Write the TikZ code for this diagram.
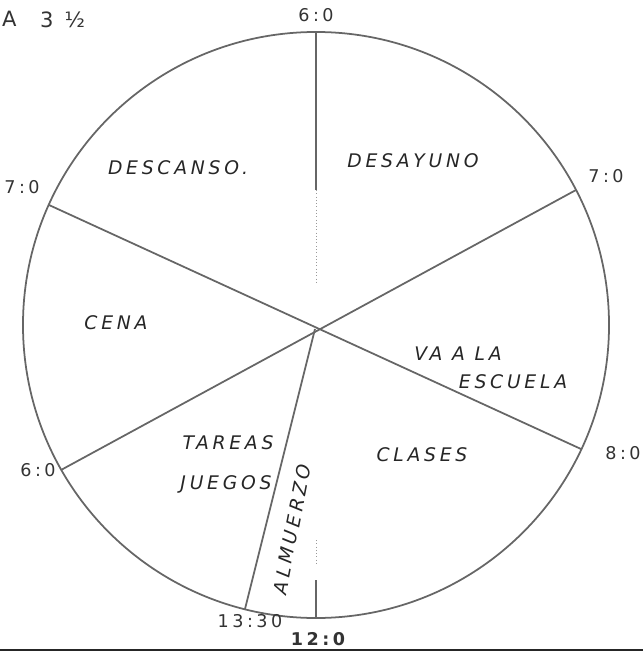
\documentclass[tikz,border=0pt]{standalone}
\usepackage{fontspec}
\setmainfont{DejaVu Sans}
\newfontfamily\hand[LetterSpace=20]{DejaVu Sans}

\begin{document}
\begin{tikzpicture}[x=0.03cm, y=-0.03cm,
    pen/.style={line width=1.5pt, draw=black!60},
    lbl/.style={font=\hand\itshape\fontsize{16}{18}\selectfont, text=black!85, inner sep=0pt},
    hora/.style={font=\hand\fontsize{15}{17}\selectfont, text=black!80, inner sep=0pt}]
    \useasboundingbox (0,0) rectangle (643,653);

    % Clock face
    \coordinate (c) at (316,325);
    \draw[pen] (c) circle (8.79cm);

    % Points on the rim
    \coordinate (t6)    at (316,32);
    \coordinate (t7r)   at (576,190);
    \coordinate (t8)    at (581,449);
    \coordinate (t12)   at (316,618);
    \coordinate (t1330) at (245,609);
    \coordinate (t6l)   at (61,470);
    \coordinate (t7l)   at (49,205);
    \coordinate (x)     at (315,329);

    % Dividing lines
    \draw[pen] (t7r) -- (t6l);
    \draw[pen] (t7l) -- (t8);
    \draw[pen] (x) -- (t1330);
    \draw[pen] (t6) -- (316,190);
    \draw[black!40, line width=0.8pt, dotted] (316,190) -- (316,285);
    \draw[pen] (316,580) -- (t12);
    \draw[black!40, line width=0.8pt, dotted] (316,540) -- (316,565);

    % Hours
    \node[hora] (h6)    at (316,15)  {6:0};
    \node[hora] (h7r)   at (606,176) {7:0};
    \node[hora] (h8)    at (623,453) {8:0};
    \node[hora] (h12)   at (318,639) {\bfseries 12:0};
    \node[hora] (h1330) at (250,621) {13:30};
    \node[hora] (h6l)   at (38,470)  {6:0};
    \node[hora] (h7l)   at (22,187)  {7:0};

    % Heading
    \node[hora, anchor=west, font=\hand\fontsize{18}{20}\selectfont] (hA)   at (2,19) {A};
    \node[hora, anchor=west, font=\hand\fontsize{18}{20}\selectfont] (hval) at (40,20) {3 ½};

    % Activities
    \node[lbl] (descanso) at (178,168) {DESCANSO.};
    \node[lbl] (desayuno) at (413,161) {DESAYUNO};
    \node[lbl] (cena)     at (116,323) {CENA};
    \node[lbl] (va)       at (458,354) {VA A LA};
    \node[lbl] (escuela)  at (513,382) {ESCUELA};
    \node[lbl] (tareas)   at (228,443) {TAREAS};
    \node[lbl] (juegos)   at (226,484) {JUEGOS};
    \node[lbl] (clases)   at (422,455) {CLASES};
    \node[lbl, rotate=79] (almuerzo) at (292,529) {ALMUERZO};

    % Bottom edge
    \draw[line width=2.5pt, black!85] (0,650) -- (643,650);
\end{tikzpicture}
\end{document}
